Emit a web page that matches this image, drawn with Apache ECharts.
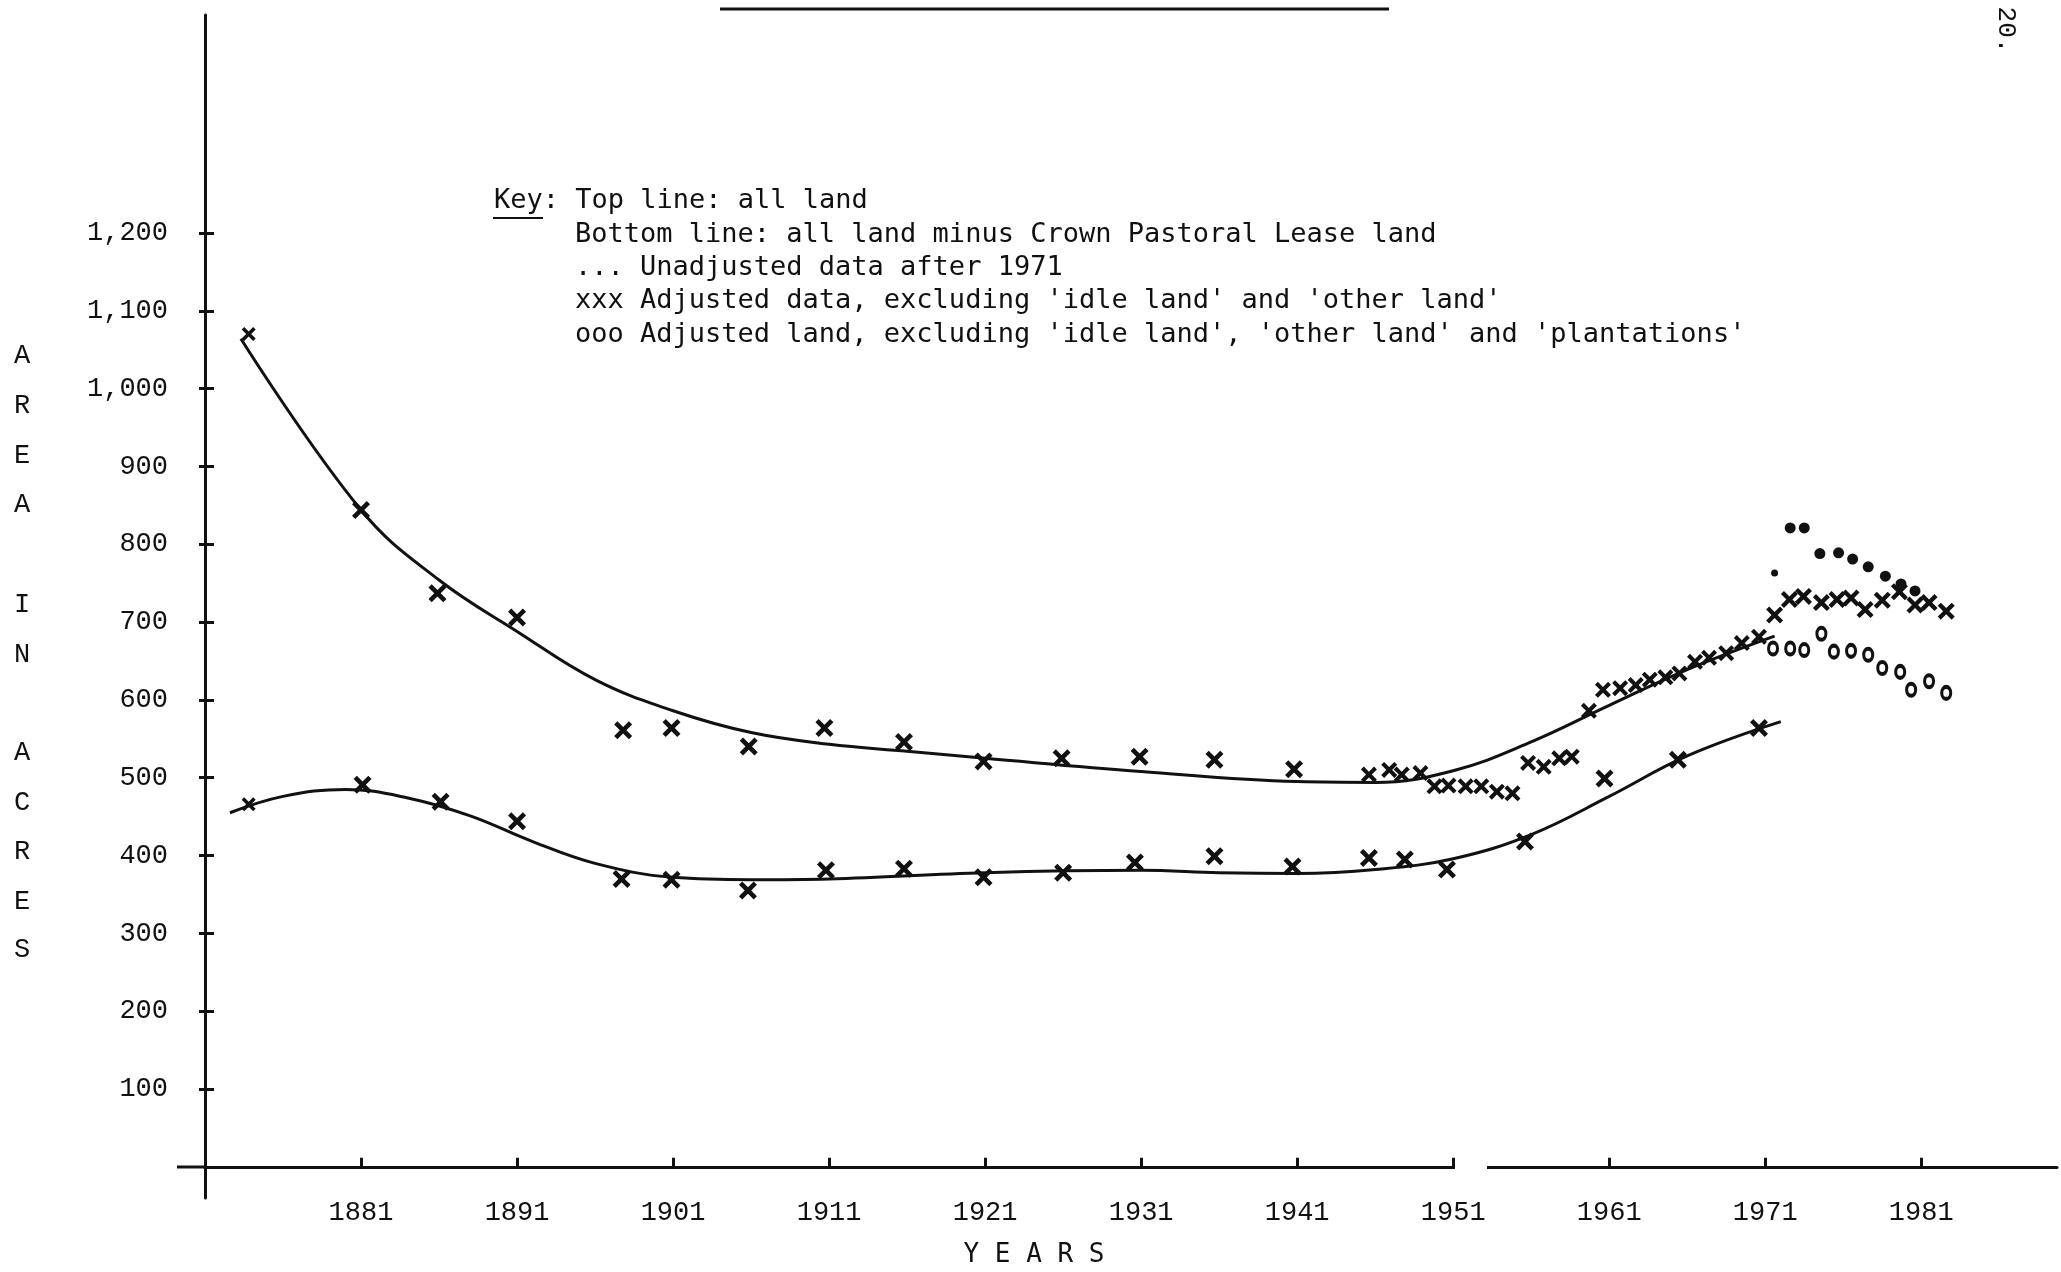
<!DOCTYPE html>
<html>
<head>
<meta charset="utf-8">
<script src="https://cdn.jsdelivr.net/npm/echarts@6/dist/echarts.min.js"></script>
<style>
html,body{margin:0;padding:0;background:#fff;}
#chart{width:2061px;height:1272px;}
</style>
</head>
<body>
<div id="chart"></div>
<script>
// ---- tick labels ----
const yearTicks = [1881, 1891, 1901, 1911, 1921, 1931, 1941, 1951, 1961, 1971, 1981];
const areaTicks = [100, 200, 300, 400, 500, 600, 700, 800, 900, 1000, 1100, 1200];

// ---- fitted curve: top line (all land) ----
const topCurveYears  = [1873.3, 1881, 1886, 1891, 1896, 1901, 1906, 1911, 1916, 1921, 1931, 1941, 1946, 1951, 1956, 1961, 1966, 1971.6];
const topCurveValues = [1064, 844, 754, 688, 626, 586, 558, 543, 534, 525, 508, 495, 494, 509, 546, 593, 639, 682];

// ---- fitted curve: bottom line (all land minus Crown Pastoral Lease land) ----
const bottomCurveYears  = [1872.6, 1876, 1880, 1884, 1888, 1892, 1896, 1901, 1906, 1911, 1921, 1931, 1936, 1941, 1946, 1951, 1956, 1961, 1966, 1972];
const bottomCurveValues = [455, 476, 485, 474, 451, 418, 390, 372, 369, 370, 378, 381, 378, 377, 382, 396, 427, 476, 528, 572];

// ---- plotted points: all land ----
const allLandYears  = [1873.8, 1881.0, 1885.9, 1891.0, 1897.8, 1900.9, 1905.85, 1910.7, 1915.8, 1920.9, 1925.9, 1930.9, 1935.7, 1940.8,
  1945.6, 1946.9, 1947.7, 1948.9, 1949.8, 1950.7, 1951.8, 1952.8, 1953.8, 1954.8, 1955.8, 1956.8, 1957.8, 1958.6,
  1959.7, 1960.6, 1961.7, 1962.7, 1963.6, 1964.6, 1965.5, 1966.5, 1967.4, 1968.5, 1969.5, 1970.6];
const allLandValues = [1070, 844, 737, 706, 561, 564, 540, 564, 546, 521, 525, 527, 523, 511,
  504, 510, 504, 506, 489, 490, 489, 489, 482, 480, 519, 514, 525, 527,
  586, 613, 615, 619, 626, 629, 634, 649, 654, 660, 673, 681];

// ---- plotted points: all land minus Crown Pastoral Lease land ----
const minusCPLYears  = [1873.8, 1881.1, 1886.1, 1891.0, 1897.7, 1900.9, 1905.8, 1910.8, 1915.8, 1920.9, 1926.0, 1930.6, 1935.7, 1940.7, 1945.6, 1947.9, 1950.6, 1955.6, 1960.7, 1965.4, 1970.6];
const minusCPLValues = [466, 491, 469, 444, 370, 369, 355, 381, 383, 372, 378, 391, 399, 386, 397, 395, 382, 418, 499, 523, 564];

// ---- xxx adjusted data after 1971 ----
const adjustedYears  = [1971.6, 1972.55, 1973.45, 1974.6, 1975.6, 1976.5, 1977.4, 1978.5, 1979.6, 1980.6, 1981.5, 1982.6];
const adjustedValues = [709, 729, 733, 725, 729, 731, 716, 728, 739, 722, 725, 714];

// ---- ... unadjusted data after 1971 ----
const unadjustedYears  = [1971.6, 1972.6, 1973.5, 1974.5, 1975.7, 1976.6, 1977.6, 1978.7, 1979.7, 1980.6];
const unadjustedValues = [763, 821, 821, 788, 789, 781, 771, 759, 749, 740];

// ---- ooo adjusted land excluding plantations ----
const noPlantYears  = [1971.5, 1972.6, 1973.5, 1974.6, 1975.4, 1976.5, 1977.6, 1978.5, 1979.65, 1980.35, 1981.5, 1982.6];
const noPlantValues = [666, 666, 664, 685, 662, 663, 658, 641, 636, 613, 624, 609];

// ---- key text ----
const keyLines = [
  "Key: Top line: all land",
  "Bottom line: all land minus Crown Pastoral Lease land",
  "... Unadjusted data after 1971",
  "xxx Adjusted data, excluding 'idle land' and 'other land'",
  "ooo Adjusted land, excluding 'idle land', 'other land' and 'plantations'"
];
const yNameLetters = ["A","R","E","A","I","N","A","C","R","E","S"];

function zip(a, b) { return a.map((v, i) => [v, b[i]]); }

const INK = '#111';
const crossPath = 'path://M0,1.8 L1.8,0 L5,3.2 L8.2,0 L10,1.8 L6.8,5 L10,8.2 L8.2,10 L5,6.8 L1.8,10 L0,8.2 L3.2,5 Z';
const monoFont = "'DejaVu Sans Mono', 'Liberation Mono', monospace";
const tickFont = "'Liberation Mono', 'DejaVu Sans Mono', monospace";

const chart = echarts.init(document.getElementById('chart'), null, {renderer: 'canvas'});

const graphics = [];
const keyY = [201, 235, 268, 301, 335];
keyLines.forEach((t, i) => {
  graphics.push({type: 'text', z: 50, style: {text: t, x: i === 0 ? 494 : 575, y: keyY[i], textVerticalAlign: 'middle', textAlign: 'left', font: '27px ' + monoFont, fill: INK}});
});
graphics.push({type: 'line', z: 50, shape: {x1: 493, y1: 218, x2: 543, y2: 218}, style: {stroke: INK, lineWidth: 2}});
const letterY = [356, 406, 456, 505, 605, 655, 753, 803, 852, 902, 950];
yNameLetters.forEach((c, i) => {
  graphics.push({type: 'text', z: 50, style: {text: c, x: 22, y: letterY[i], textAlign: 'center', textVerticalAlign: 'middle', font: '27px ' + tickFont, fill: INK}});
});
graphics.push({type: 'text', z: 50, style: {text: 'Y E A R S', x: 1034, y: 1255, textAlign: 'center', textVerticalAlign: 'middle', font: '26px ' + monoFont, fill: INK}});
graphics.push({type: 'text', z: 50, x: 2006, y: 30, rotation: -Math.PI / 2, style: {text: '20.', x: 0, y: 0, textAlign: 'center', textVerticalAlign: 'middle', font: '26px ' + tickFont, fill: INK}});
graphics.push({type: 'line', z: 50, shape: {x1: 720, y1: 9, x2: 1389, y2: 9}, style: {stroke: INK, lineWidth: 3}});
graphics.push({type: 'line', z: 50, shape: {x1: 177, y1: 1167, x2: 206, y2: 1167}, style: {stroke: INK, lineWidth: 3}});
graphics.push({type: 'rect', z: 60, shape: {x: 1455, y: 1160, width: 32, height: 13}, style: {fill: '#fff'}});

const option = {
  animation: false,
  backgroundColor: '#fff',
  grid: {left: 205, right: 4, top: 15, bottom: 74, containLabel: false},
  xAxis: {
    type: 'value', min: 1871, max: 1989.7,
    axisLine: {show: true, onZero: true, lineStyle: {color: INK, width: 3}},
    axisTick: {show: true, inside: true, length: 9, customValues: yearTicks, lineStyle: {color: INK, width: 3}},
    axisLabel: {customValues: yearTicks, margin: 1, fontFamily: tickFont, fontSize: 27, color: INK,
      formatter: v => String(v)},
    splitLine: {show: false}
  },
  yAxis: [{
    type: 'value', min: -40, max: 1480,
    axisLine: {show: true, lineStyle: {color: INK, width: 3}},
    axisTick: {show: true, inside: true, length: 9, customValues: areaTicks, lineStyle: {color: INK, width: 3}},
    axisLabel: {customValues: areaTicks, margin: 37, fontFamily: tickFont, fontSize: 27, color: INK,
      formatter: v => v.toLocaleString('en-US')},
    splitLine: {show: false}
  }, {
    type: 'value', min: -40, max: 1480, position: 'left',
    axisLine: {show: false},
    axisTick: {show: true, inside: false, length: 6, customValues: areaTicks, lineStyle: {color: INK, width: 3}},
    axisLabel: {show: false},
    splitLine: {show: false}
  }],
  graphic: graphics,
  series: [
    {name: 'Top line', type: 'line', smooth: 0.4, symbol: 'none', z: 2,
      lineStyle: {color: INK, width: 3}, data: zip(topCurveYears, topCurveValues)},
    {name: 'Bottom line', type: 'line', smooth: 0.4, symbol: 'none', z: 2,
      lineStyle: {color: INK, width: 3}, data: zip(bottomCurveYears, bottomCurveValues)},
    {name: 'All land', type: 'scatter', symbol: crossPath, z: 3,
      symbolSize: (v, p) => p.dataIndex === 0 ? 14 : (v[0] > 1944 ? 16 : 18),
      itemStyle: {color: INK, opacity: 1}, data: zip(allLandYears, allLandValues)},
    {name: 'Minus CPL land', type: 'scatter', symbol: crossPath, z: 3,
      symbolSize: (v, p) => p.dataIndex === 0 ? 14 : 18,
      itemStyle: {color: INK, opacity: 1}, data: zip(minusCPLYears, minusCPLValues)},
    {name: 'Adjusted data', type: 'scatter', symbol: crossPath, z: 3, symbolSize: 17,
      itemStyle: {color: INK, opacity: 1}, data: zip(adjustedYears, adjustedValues)},
    {name: 'Unadjusted data', type: 'scatter', symbol: 'circle', z: 3,
      symbolSize: (v, p) => p.dataIndex === 0 ? 7 : 11,
      itemStyle: {color: INK, opacity: 1}, data: zip(unadjustedYears, unadjustedValues)},
    {name: 'Adjusted land excl. plantations', type: 'scatter', symbol: 'circle', z: 3, symbolSize: [9, 12],
      itemStyle: {color: '#fff', borderColor: INK, borderWidth: 3.5, opacity: 1}, data: zip(noPlantYears, noPlantValues)}
  ]
};
chart.setOption(option);
</script>
</body>
</html>
